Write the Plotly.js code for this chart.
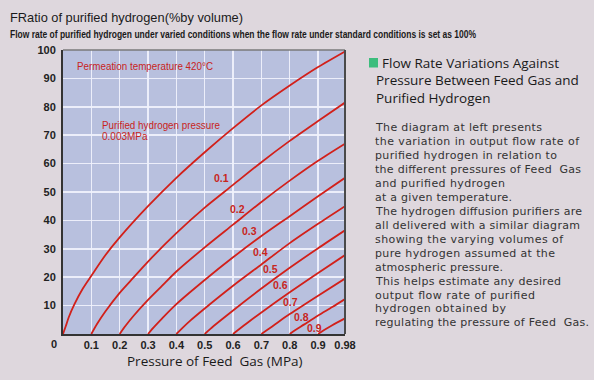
<!DOCTYPE html>
<html><head><meta charset="utf-8">
<script src="https://cdn.plot.ly/plotly-3.0.1.min.js"></script>
<style>html,body{margin:0;padding:0;background:#ded7dd;}#chart{width:594px;height:380px;}</style>
</head><body><div id="chart"></div>
<script>
// ---- data (feed pressure MPa -> relative flow %) ----
const curveNames = ["0.003", "0.1", "0.2", "0.3", "0.4", "0.5", "0.6", "0.7", "0.8", "0.9"];
const x_0003 = [0, 0.01, 0.02, 0.04, 0.07, 0.1, 0.15, 0.2, 0.3, 0.4, 0.5, 0.6, 0.7, 0.8, 0.9, 0.995];
const y_0003 = [0, 2.8, 5.8, 10.4, 16, 20.5, 27.8, 34, 45, 55, 64, 72.5, 80.5, 87.5, 94, 99.5];
const x_01 = [0.1, 0.12, 0.15, 0.2, 0.25, 0.3, 0.4, 0.5, 0.6, 0.7, 0.8, 0.9, 0.995];
const y_01 = [0, 3.5, 8, 14.5, 20, 25.5, 35.5, 44.5, 52.5, 60.5, 68, 75, 81.5];
const x_02 = [0.2, 0.22, 0.25, 0.3, 0.35, 0.4, 0.5, 0.6, 0.7, 0.8, 0.9, 0.995];
const y_02 = [0, 2.8, 6.5, 12, 17, 22, 30.5, 38.5, 46.5, 54, 61, 67];
const x_03 = [0.3, 0.32, 0.35, 0.4, 0.5, 0.6, 0.7, 0.8, 0.9, 0.995];
const y_03 = [0, 2.3, 5.5, 10.5, 19, 27, 34.5, 41.5, 48.5, 55];
const x_04 = [0.4, 0.42, 0.45, 0.5, 0.6, 0.7, 0.8, 0.9, 0.995];
const y_04 = [0, 2, 4.8, 9, 17, 24.5, 32, 38.8, 45];
const x_05 = [0.5, 0.52, 0.55, 0.6, 0.7, 0.8, 0.9, 0.995];
const y_05 = [0, 1.8, 4.3, 8.3, 16, 23.3, 30.2, 36.5];
const x_06 = [0.6, 0.62, 0.65, 0.7, 0.8, 0.9, 0.995];
const y_06 = [0, 1.6, 3.9, 7.6, 14.7, 21.5, 27.8];
const x_07 = [0.7, 0.72, 0.75, 0.8, 0.9, 0.995];
const y_07 = [0, 1.4, 3.5, 7, 13.5, 19.5];
const x_08 = [0.8, 0.82, 0.85, 0.9, 0.95, 0.995];
const y_08 = [0, 1.4, 3.3, 6.5, 9.5, 12.3];
const x_09 = [0.9, 0.92, 0.95, 0.995];
const y_09 = [0, 1.3, 3.1, 5.5];
const xTickVals = [0.1, 0.2, 0.3, 0.4, 0.5, 0.6, 0.7, 0.8, 0.9, 0.995];
const xTickText = ["0.1", "0.2", "0.3", "0.4", "0.5", "0.6", "0.7", "0.8", "0.9", "0.98"];
const yTickVals = [10, 20, 30, 40, 50, 60, 70, 80, 90, 100];

const xsAll = [x_0003, x_01, x_02, x_03, x_04, x_05, x_06, x_07, x_08, x_09];
const ysAll = [y_0003, y_01, y_02, y_03, y_04, y_05, y_06, y_07, y_08, y_09];

// ---- geometry ----
const L = 63, R = 249, T = 50, B = 46, W = 594, H = 380;
const PW = W - L - R, PH = H - T - B;
function pap(px, py) { return { x: (px - L) / PW, y: (H - B - py) / PH }; }
function ann(text, px, py, font, xanchor) {
  const p = pap(px, py);
  const xa = xanchor || 'left';
  return { xref: 'paper', yref: 'paper', x: p.x, y: p.y, text: text, showarrow: false, borderpad: 0,
           xanchor: xa, align: xa === 'left' ? 'left' : 'center', yanchor: 'middle', font: font };
}

const red = '#d2201a';
const traces = xsAll.map((xs, i) => ({
  type: 'scatter', mode: 'lines', x: xs, y: ysAll[i], name: curveNames[i],
  line: { color: red, width: 1.8, shape: 'spline', smoothing: 0.8 },
  hoverinfo: 'x+y+name'
}));

const labFont = { family: 'Liberation Sans, Arial, sans-serif', size: 10.5, color: '#c8251c', weight: 'bold' };
const labelPix = [[221, 178], [237.5, 209], [249.5, 231], [260.5, 252], [270, 269], [280.5, 284.5], [290, 302], [301, 317], [314, 328]];
const annotations = [];
labelPix.forEach((p, i) => annotations.push(ann(curveNames[i + 1], p[0], p[1], labFont, 'center')));

const redText = { family: 'Liberation Sans, Arial, sans-serif', size: 10, color: '#c8251c' };
annotations.push(ann('Permeation temperature 420°C', 76, 66, redText));
annotations.push(ann('Purified hydrogen pressure', 101, 125.5, redText));
annotations.push(ann('0.003MPa', 101, 136, redText));
annotations.push(ann('0', 53.5, 344, { family: 'Liberation Sans, Arial, sans-serif', size: 11, color: '#222', weight: 'bold' }, 'center'));

annotations.push(ann('Pressure of Feed\u00a0 Gas (MPa)', 215, 361, { family: 'Open Sans, sans-serif', size: 13.5, color: '#1a1a1a' }, 'center'));
annotations.push(ann('FRatio of purified hydrogen(%by volume)', 9, 17, { family: 'Liberation Sans, sans-serif', size: 13.5, color: '#1a1a1a' }));
annotations.push(ann('Flow rate of purified hydrogen under varied conditions when the flow rate under standard conditions is set as 100%', 9, 34, { family: 'Liberation Sans, sans-serif', size: 10, color: '#1a1a1a', weight: 'bold' }));

const headFont = { family: 'Open Sans, sans-serif', size: 13.5, color: '#1a1a1a' };
annotations.push(ann('Flow Rate Variations Against', 381, 62.5, headFont));
annotations.push(ann('Pressure Between Feed Gas and', 375, 80, headFont));
annotations.push(ann('Purified Hydrogen', 375, 97.5, headFont));

const bodyLines = [
  'The diagram at left presents',
  'the variation in output flow rate of',
  'purified hydrogen in relation to',
  'the different pressures of Feed\u00a0 Gas',
  'and purified hydrogen',
  'at a given temperature.',
  'The hydrogen diffusion purifiers are',
  'all delivered with a similar diagram',
  'showing the varying volumes of',
  'pure hydrogen assumed at the',
  'atmospheric pressure.',
  'This helps estimate any desired',
  'output flow rate of purified',
  'hydrogen obtained by',
  'regulating the pressure of Feed\u00a0 Gas.'
];
// widths (px) of each body line as measured on the reference
const bodyWidths = [166, 204, 182, 206, 130, 137, 206, 205, 188, 180, 128, 185, 160, 131, 214];
const bodyFont = { family: 'DejaVu Sans, sans-serif', size: 11, color: '#333' };
bodyLines.forEach((t, i) => annotations.push(ann(t, 374.3, 127.5 + i * 13.96, bodyFont)));

const sq0 = pap(369, 67.5), sq1 = pap(378, 58);
const shapes = [
  { type: 'rect', xref: 'paper', yref: 'paper', x0: sq0.x, y0: sq0.y, x1: sq1.x, y1: sq1.y, fillcolor: '#3dbd7d', line: { width: 0 } },
  { type: 'line', xref: 'paper', yref: 'paper', x0: 0, y0: 1, x1: 1, y1: 1, line: { color: '#7a7a7a', width: 1.5 } },
  { type: 'line', xref: 'paper', yref: 'paper', x0: 1, y0: 0, x1: 1, y1: 1, line: { color: '#4a4a4a', width: 2 } }
];

const tickFont = { family: 'Liberation Sans, Arial, sans-serif', size: 11, color: '#222', weight: 'bold' };
const layout = {
  width: W, height: H,
  margin: { l: L, r: R, t: T, b: B, pad: 0 },
  paper_bgcolor: '#ded7dd', plot_bgcolor: '#b8c0de',
  showlegend: false,
  xaxis: { range: [0, 0.995], tickmode: 'array', tickvals: xTickVals, ticktext: xTickText,
           showgrid: true, gridcolor: 'rgba(240,242,252,0.92)', gridwidth: 1.5, zeroline: false,
           showline: true, linecolor: '#333', linewidth: 2, ticks: '', tickfont: tickFont, fixedrange: true },
  yaxis: { range: [0, 100], tickmode: 'array', tickvals: yTickVals,
           showgrid: true, gridcolor: 'rgba(240,242,252,0.92)', gridwidth: 1.5, zeroline: false,
           showline: true, linecolor: '#333', linewidth: 2, ticks: 'outside', ticklen: 3, tickcolor: 'rgba(0,0,0,0)',
           tickfont: tickFont, fixedrange: true },
  annotations: annotations,
  shapes: shapes
};

// target text widths (px) measured on the reference, used to condense glyphs like the original fonts
const fitWidths = {
  'FRatio of purified hydrogen(%by volume)': 233,
  'Flow rate of purified hydrogen under varied conditions when the flow rate under standard conditions is set as 100%': 466,
  'Permeation temperature 420°C': 136,
  'Purified hydrogen pressure': 118
};
Plotly.newPlot('chart', traces, layout, { displayModeBar: false, staticPlot: true }).then(gd => {
  gd.querySelectorAll('g.annotation text.annotation-text').forEach(el => {
    const t = el.textContent;
    const bi = bodyLines.indexOf(t);
    if (fitWidths[t]) {
      el.setAttribute('textLength', fitWidths[t]);
      el.setAttribute('lengthAdjust', 'spacingAndGlyphs');
    } else if (bi >= 0) {
      el.setAttribute('textLength', bodyWidths[bi]);
      el.setAttribute('lengthAdjust', 'spacing');
    }
  });
});
</script></body></html>
